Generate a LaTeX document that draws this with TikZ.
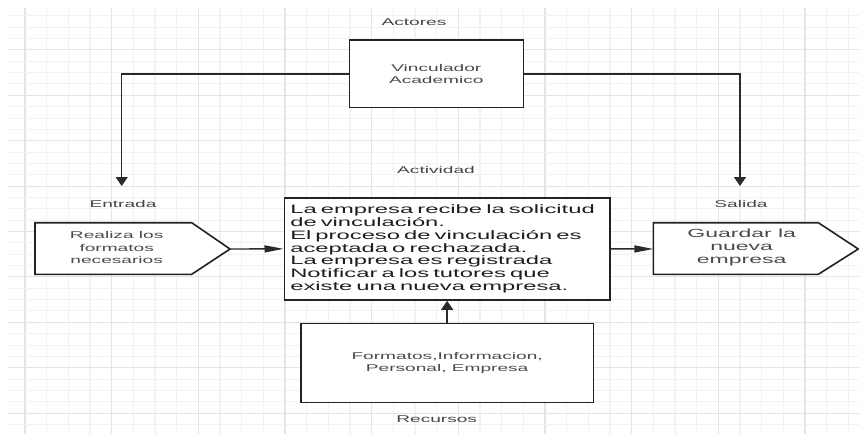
\documentclass[tikz,border=0pt]{standalone}
\usepackage{fontspec}
\newfontfamily\wf[FakeStretch=1.95]{Liberation Sans}
\usetikzlibrary{arrows.meta}
\definecolor{boxc}{HTML}{222222}
\definecolor{linec}{HTML}{2A2A2A}
\definecolor{labelgray}{HTML}{444444}
\definecolor{txtgray}{HTML}{4A4A4A}
\definecolor{actc}{HTML}{1E1E1E}
\definecolor{minorg}{HTML}{F2F2F2}
\definecolor{majorg}{HTML}{E4E4E4}
\begin{document}
\begin{tikzpicture}[x=1pt,y=-1pt,
  lbl/.style={font=\wf\fontsize{9.8}{12}\selectfont, text=labelgray, inner sep=0pt},
  smalltxt/.style={font=\wf\fontsize{9.8}{12.4}\selectfont, text=txtgray, align=center, inner sep=0pt},
  bigtxt/.style={font=\wf\fontsize{11.8}{13}\selectfont, text=txtgray, align=center, inner sep=0pt},
  box/.style={draw=boxc, line width=1.6pt, fill=white, inner sep=0pt},
  conn/.style={draw=linec, line width=1.4pt, -{Triangle[length=9pt,width=12pt]}},
  hconn/.style={draw=linec, line width=1.4pt, -{Triangle[length=19pt,width=7pt]}},
  vgrid/.style={line width=1.6pt},
  hgrid/.style={line width=1pt}
]
\useasboundingbox (0,0) rectangle (859,434);
\fill[white] (0,0) rectangle (859,434);
% grid
\foreach \i in {0,...,38}{
  \pgfmathsetmacro\gx{25+\i*21.667}
  \pgfmathtruncatemacro\m{mod(\i,4)}
  \ifnum\m=0 \draw[vgrid, majorg] (\gx,8) -- (\gx,434); \else \draw[vgrid, minorg] (\gx,8) -- (\gx,434); \fi
}
\foreach \k in {1,...,37}{
  \pgfmathsetmacro\gy{4.5+\k*11.35}
  \pgfmathtruncatemacro\m{mod(\k,4)}
  \ifnum\m=0 \draw[hgrid, majorg] (8,\gy) -- (859,\gy); \else \draw[hgrid, minorg] (8,\gy) -- (859,\gy); \fi
}

% labels
\node[lbl] (lact) at (414,22) {Actores};
\node[lbl] (lactiv) at (436,170) {Actividad};
\node[lbl] (lent) at (123,204) {Entrada};
\node[lbl] (lsal) at (741,204) {Salida};
\node[lbl] (lrec) at (436.7,419) {Recursos};

% boxes
\node[box, minimum width=174pt, minimum height=67.7pt, smalltxt] (vinc) at (436.3,73.8) {Vinculador\\Academico};
\node[box, minimum width=325.7pt, minimum height=102.3pt, text width=313.7pt, inner xsep=6pt, align=left,
      font=\wf\fontsize{12.2}{12.9}\selectfont, text=actc] (act) at (447.15,248.85)
  {La empresa recibe la solicitud\\de vinculación.\\El proceso de vinculación es\\aceptada o rechazada.\\La empresa es registrada\\Notificar a los tutores que\\existe una nueva empresa.};
\node[box, minimum width=292.3pt, minimum height=79pt, smalltxt] (rec) at (447.15,362.8) {Formatos,Informacion,\\Personal, Empresa};

% pentagons
\draw[box] (35,222.7) -- (191.7,222.7) -- (230,249) coordinate (entip) -- (191.7,274.3) -- (35,274.3) -- cycle;
\node[smalltxt] (entxt) at (116.7,247.5) {Realiza los\\formatos\\necesarios};
\draw[box] (653.3,249) coordinate (salin) -- (653.3,222.7) -- (818.3,222.7) -- (858.3,249) -- (818.3,274.3) -- (653.3,274.3) -- cycle;
\node[bigtxt] (saltxt) at (741.7,247.3) {Guardar la\\nueva\\empresa};

% connectors
\coordinate (aL) at (121.7,186);
\coordinate (aR) at (740,186);
\draw[conn] (vinc.west) -| (aL);
\draw[conn] (vinc.east) -| (aR);
\draw[hconn] (entip) -- (act.west);
\draw[hconn] (act.east) -- (salin);
\draw[conn] (rec.north) -- (act.south);
\end{tikzpicture}
\end{document}
